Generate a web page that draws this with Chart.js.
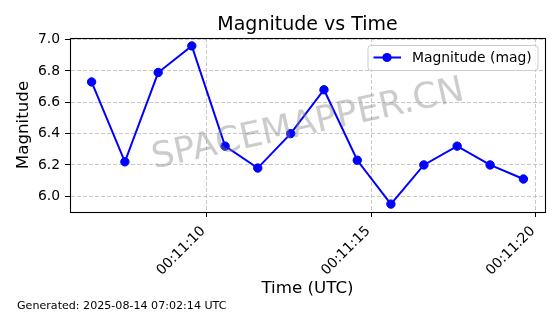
<!DOCTYPE html>
<html><head><meta charset="utf-8">
<script src="https://cdn.jsdelivr.net/npm/chart.js@4.4.1/dist/chart.umd.min.js"></script>
<style>html,body{margin:0;padding:0;background:#fff;}#wrap{width:560px;height:314px;}</style>
</head><body><div id="wrap"><canvas id="c" width="560" height="314"></canvas></div>
<script>
// ---- data ----
const timeLabels = ["00:11:06.52","00:11:07.53","00:11:08.54","00:11:09.56","00:11:10.57","00:11:11.56","00:11:12.56",
                    "00:11:13.57","00:11:14.58","00:11:15.60","00:11:16.60","00:11:17.61","00:11:18.61","00:11:19.62"];
const magnitudes = [6.73, 6.22, 6.79, 6.96, 6.32, 6.18, 6.40, 6.68, 6.23, 5.95, 6.20, 6.32, 6.20, 6.11];
const xTickLabels = ["00:11:10", "00:11:15", "00:11:20"];
const yTickValues = [6.0, 6.2, 6.4, 6.6, 6.8, 7.0];
const seriesName = "Magnitude (mag)";
const chartTitle = "Magnitude vs Time";
const xAxisTitle = "Time (UTC)";
const yAxisTitle = "Magnitude";
const footerText = "Generated: 2025-08-14 07:02:14 UTC";
const watermarkText = "SPACEMAPPER.CN";

function toSec(s){ const p = s.split(':'); return (+p[0])*3600 + (+p[1])*60 + parseFloat(p[2]); }
function pad2(n){ return String(n).padStart(2,'0'); }
function fmtTime(v){ const t = Math.round(v); return pad2(Math.floor(t/3600)) + ':' + pad2(Math.floor((t%3600)/60)) + ':' + pad2(t%60); }

const xs = timeLabels.map(toSec);
const points = xs.map((x,i)=>({x:x, y:magnitudes[i]}));
const xMinD = Math.min(...xs), xMaxD = Math.max(...xs);
const yMinD = Math.min(...magnitudes), yMaxD = Math.max(...magnitudes);
const xm = (xMaxD-xMinD)*0.05, ym = (yMaxD-yMinD)*0.05;

const FONT = "DejaVu Sans";
Chart.defaults.font.family = FONT;
Chart.defaults.color = '#000';

const decor = {
  id: 'decor',
  afterDatasetsDraw(chart){
    const {ctx, chartArea:a} = chart;
    ctx.save();
    ctx.strokeStyle = '#000'; ctx.lineWidth = 1.1;
    ctx.strokeRect(Math.round(a.left)+0.5, Math.round(a.top)+0.5, Math.round(a.right)-Math.round(a.left), Math.round(a.bottom)-Math.round(a.top));
    // legend
    const lx=368, ly=45.5, lw=170, lh=25, r=3;
    ctx.beginPath();
    ctx.moveTo(lx+r,ly); ctx.lineTo(lx+lw-r,ly); ctx.arcTo(lx+lw,ly,lx+lw,ly+r,r);
    ctx.lineTo(lx+lw,ly+lh-r); ctx.arcTo(lx+lw,ly+lh,lx+lw-r,ly+lh,r);
    ctx.lineTo(lx+r,ly+lh); ctx.arcTo(lx,ly+lh,lx,ly+lh-r,r);
    ctx.lineTo(lx,ly+r); ctx.arcTo(lx,ly,lx+r,ly,r); ctx.closePath();
    ctx.fillStyle='rgba(255,255,255,0.8)'; ctx.fill();
    ctx.strokeStyle='#cccccc'; ctx.lineWidth=1; ctx.stroke();
    ctx.strokeStyle='#0000ff'; ctx.lineWidth=2;
    ctx.beginPath(); ctx.moveTo(373.5,57.5); ctx.lineTo(401,57.5); ctx.stroke();
    ctx.fillStyle='#0000ff'; ctx.beginPath(); ctx.arc(387,57.5,4.6,0,Math.PI*2); ctx.fill();
    ctx.fillStyle='#000'; ctx.font='13.9px "'+FONT+'"'; ctx.textBaseline='middle'; ctx.textAlign='left';
    ctx.fillText(seriesName, 412, 58);
    ctx.restore();
  },
  afterDraw(chart){
    const ctx = chart.ctx, a = chart.chartArea;
    ctx.save();
    ctx.translate(308,125); ctx.rotate(-12.5*Math.PI/180);
    ctx.font='35.5px "'+FONT+'"'; ctx.textAlign='center'; ctx.textBaseline='middle';
    ctx.fillStyle='rgba(128,128,128,0.4)';
    ctx.fillText(watermarkText, 0, 0);
    ctx.restore();
    ctx.save();
    ctx.fillStyle='#000'; ctx.textAlign='center'; ctx.textBaseline='alphabetic';
    ctx.font='19px "'+FONT+'"';
    ctx.fillText(chartTitle, (a.left+a.right)/2, 30);
    ctx.textAlign='left';
    ctx.font='11.1px "'+FONT+'"';
    ctx.fillText(footerText, 17, 309);
    ctx.restore();
  }
};

new Chart(document.getElementById('c'), {
  type: 'line',
  data: { datasets: [{
    label: seriesName, data: points,
    borderColor: '#0000ff', backgroundColor: '#0000ff', borderWidth: 2,
    pointRadius: 4.2, pointBorderWidth: 1, pointBackgroundColor: '#0000ff', pointBorderColor: '#0000ff',
    tension: 0, fill: false, clip: false
  }]},
  options: {
    responsive: false, animation: false, devicePixelRatio: 1,
    layout: { padding: { left: 0, right: 15, top: 38, bottom: 0 } },
    plugins: {
      legend: { display: false }, tooltip: { enabled: false }, title: { display: false }
    },
    scales: {
      x: {
        type: 'linear', min: xMinD - xm, max: xMaxD + xm,
        afterBuildTicks: s => { s.ticks = xTickLabels.map(t => ({ value: toSec(t) })); },
        afterFit: s => { s.height = 102; },
        ticks: { callback: v => fmtTime(v), minRotation: 45, maxRotation: 45, autoSkip: false, font: { size: 13.9 }, color: '#000', padding: 6, labelOffset: -3 },
        grid: { color: 'rgba(176,176,176,0.7)', lineWidth: 1, tickColor: '#000', tickLength: 5, tickWidth: 1, tickBorderDash: [] },
        border: { display: true, color: '#000', width: 1, dash: [4, 2] },
        title: { display: true, text: xAxisTitle, font: { size: 16.7 }, color: '#000', padding: { top: 0, bottom: 15 } }
      },
      y: {
        type: 'linear', min: yMinD - ym, max: yMaxD + ym,
        afterBuildTicks: s => { s.ticks = yTickValues.map(v => ({ value: v })); },
        afterFit: s => { s.width = 70; },
        ticks: { callback: v => Number(v).toFixed(1), font: { size: 13.9 }, color: '#000', padding: 5 },
        grid: { color: 'rgba(176,176,176,0.7)', lineWidth: 1, tickColor: '#000', tickLength: 5, tickWidth: 1, tickBorderDash: [] },
        border: { display: true, color: '#000', width: 1, dash: [4, 2] },
        title: { display: true, text: yAxisTitle, font: { size: 16.7 }, color: '#000', padding: { top: 14, bottom: 0 } }
      }
    }
  },
  plugins: [decor]
});
</script></body></html>
